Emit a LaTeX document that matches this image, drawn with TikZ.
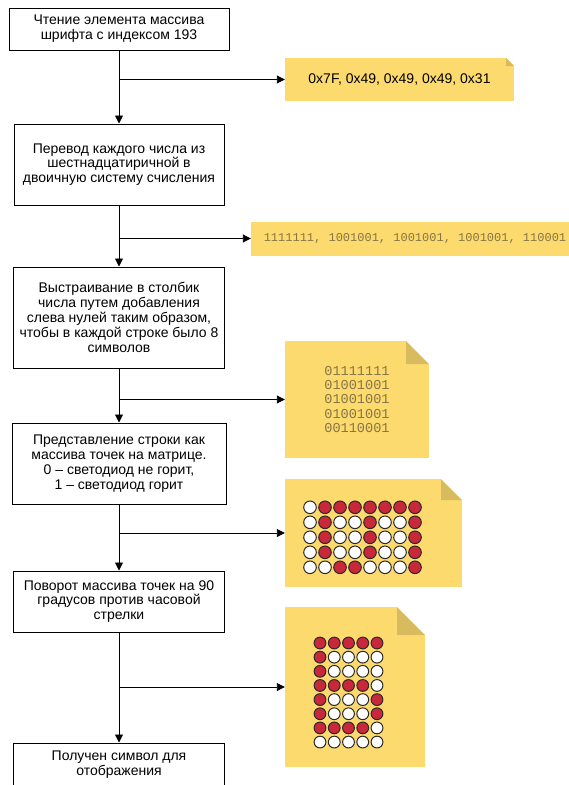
\documentclass[tikz,border=0pt]{standalone}
\usepackage{fontspec}
\setmainfont{Liberation Sans}
\setmonofont{Liberation Mono}
\usetikzlibrary{arrows.meta}
\definecolor{notefill}{HTML}{FDDA6E}
\definecolor{noteear}{HTML}{D8BB5E}
\definecolor{notetext}{HTML}{857545}
\definecolor{dotline}{HTML}{2A2A2A}
\definecolor{dot0}{HTML}{FFFFFF}
\definecolor{dot1}{HTML}{C8283A}
\tikzset{ear/.store in=\earsz, ear=8}

\begin{document}
\begin{tikzpicture}[x=1pt,y=-1pt]
\tikzstyle{block}=[draw,line width=1pt,align=center,inner sep=2pt,font=\fontsize{14}{14.8}\selectfont]
\tikzstyle{note}=[fill=notefill,inner sep=0pt,align=center,path picture={
	\fill[white] (path picture bounding box.north east) -- ++(-\earsz pt,0pt) -- ++(\earsz pt,-\earsz pt) -- cycle;
	\fill[noteear] ([xshift=-\earsz pt]path picture bounding box.north east) -- ++(0pt,-\earsz pt) -- ++(\earsz pt,0pt) -- cycle;
}]
\tikzstyle{code}=[text=notetext]
\tikzstyle{arr}=[line width=0.9pt,-{Triangle[length=8pt,width=8pt]}]
\tikzstyle{led}=[draw=dotline,line width=1pt]
\useasboundingbox (0,0) rectangle (569,785);

\node[block,minimum width=220,minimum height=42] (read) at (119,29) {Чтение элемента массива\\шрифта с индексом 193};
\node[block,minimum width=210,minimum height=81] (convert) at (119,164.5) {Перевод каждого числа из\\шестнадцатиричной в\\двоичную систему счисления};
\node[block,minimum width=211,minimum height=101] (align) at (119,317.5) {Выстраивание в столбик\\числа путем добавления\\слева нулей таким образом,\\чтобы в каждой строке было 8\\символов};
\node[block,minimum width=214,minimum height=81] (matrix) at (119,463.5) {Представление строки как\\массива точек на матрице.\\0 – светодиод не горит,\\1 – светодиод горит};
\node[block,minimum width=211,minimum height=61] (rotate) at (119,601.5) {Поворот массива точек на 90\\градусов против часовой\\стрелки};
\node[block,minimum width=211,minimum height=44] (result) at (119,765) {Получен символ для\\отображения};

\node[note,ear=8,minimum width=229,minimum height=43,font=\fontsize{14}{14.8}\selectfont] (hex) at (399.5,79.5) {0x7F, 0x49, 0x49, 0x49, 0x31};
\node[note,code,ear=8,minimum width=328,minimum height=34,font=\ttfamily\fontsize{12}{14}\selectfont] (bin) at (415,238.5) {1111111, 1001001, 1001001, 1001001, 110001};
\node[note,code,ear=23,minimum width=144,minimum height=117,align=left,font=\ttfamily\fontsize{13.6}{14.4}\selectfont] (cols) at (357,399.5) {01111111\\01001001\\01001001\\01001001\\00110001};
\node[note,ear=21,minimum width=177,minimum height=108] (dots) at (373.5,533) {};
\node[note,ear=28,minimum width=140,minimum height=160] (turned) at (355,687) {};

\foreach \row [count=\j from 0] in {{0,1,1,1,1,1,1,1},{0,1,0,0,1,0,0,1},{0,1,0,0,1,0,0,1},{0,1,0,0,1,0,0,1},{0,0,1,1,0,0,0,1}}
	\foreach \b [count=\i from 0] in \row
		\filldraw[led,fill=dot\b] (310+15*\i,507.3+15*\j) circle (6.3);
\foreach \row [count=\j from 0] in {{1,1,1,1,1},{1,0,0,0,0},{1,0,0,0,0},{1,1,1,1,0},{1,0,0,0,1},{1,0,0,0,1},{1,1,1,1,0},{0,0,0,0,0}}
	\foreach \b [count=\i from 0] in \row
		\filldraw[led,fill=dot\b] (320+14.25*\i,643+14.15*\j) circle (5.9);

\draw[arr] (read.south) -- (convert.north);
\draw[arr] (convert.south) -- (align.north);
\draw[arr] (align.south) -- (matrix.north);
\draw[arr] (matrix.south) -- (rotate.north);
\draw[arr] (rotate.south) -- (result.north);
\draw[arr] (read.south |- hex.west) -- (hex.west);
\draw[arr] (convert.south |- bin.west) -- (bin.west);
\draw[arr] (align.south |- cols.west) -- (cols.west);
\draw[arr] (matrix.south |- dots.west) -- (dots.west);
\draw[arr] (rotate.south |- turned.west) -- (turned.west);
\end{tikzpicture}
\end{document}
